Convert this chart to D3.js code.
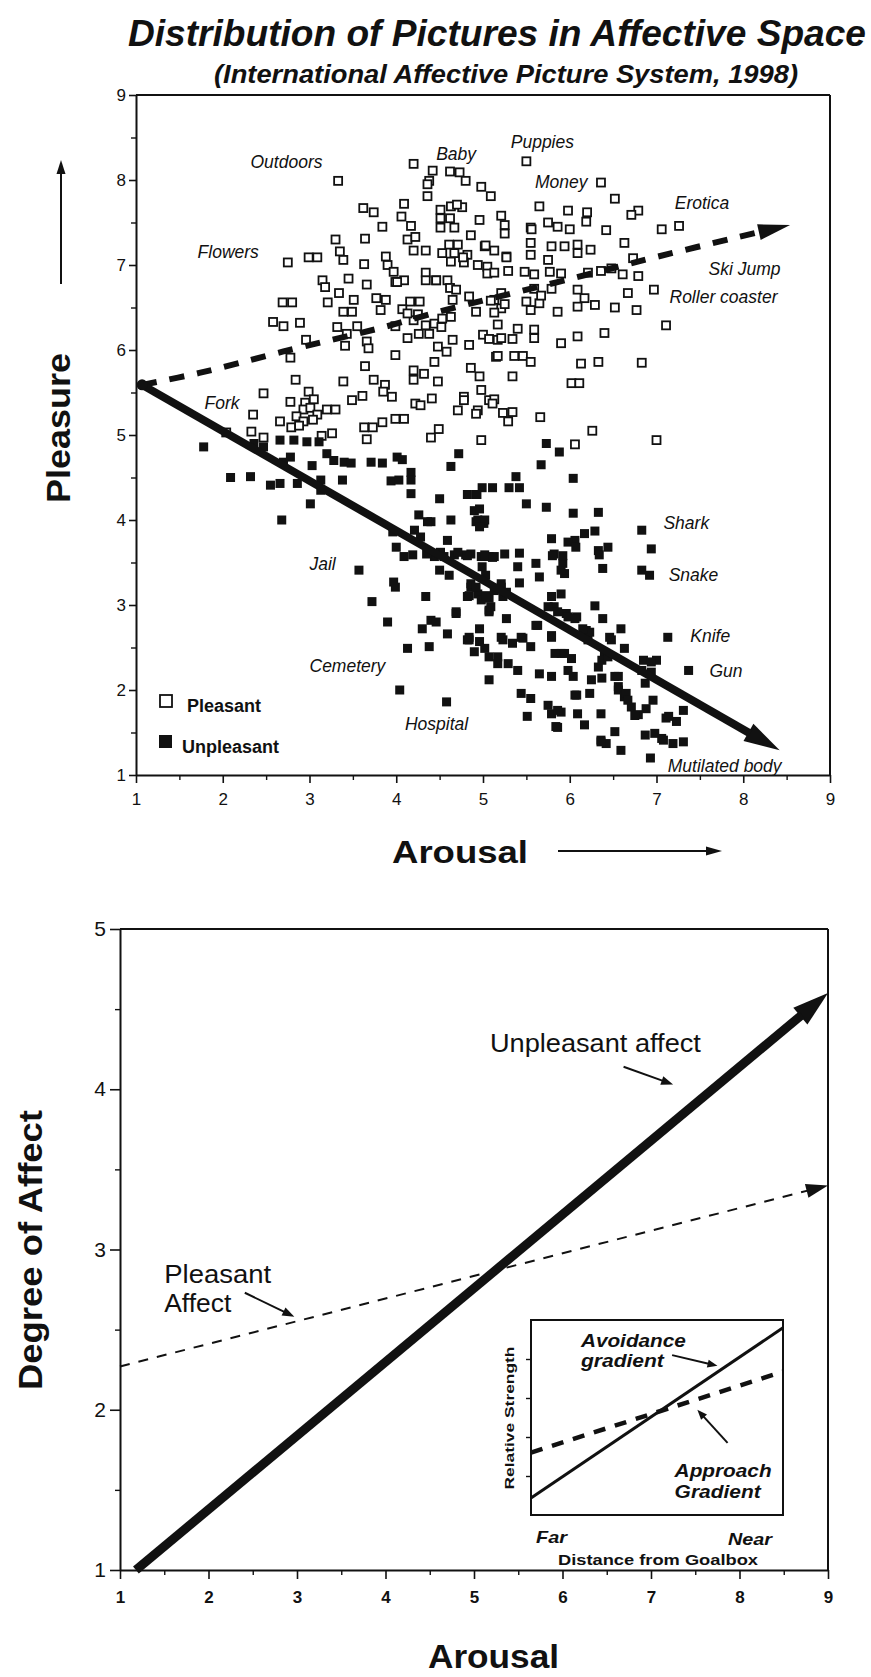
<!DOCTYPE html>
<html lang="en">
<head>
<meta charset="UTF-8">
<title>Distribution of Pictures in Affective Space</title>
<script src="https://d3js.org/d3.v7.min.js"></script>
<style>
  body { margin: 0; background: #fff; }
  svg { display: block; }
</style>
</head>
<body>
<script>
var width = 871, height = 1677;
var ink = "#111";
var font = "'Liberation Sans', Arial, Helvetica, sans-serif";

// ---- top chart data (arousal, pleasure) ----
var pleasant = [
  [4.20,8.19],[4.42,8.11],[4.62,8.10],[4.73,8.09],[4.80,7.99],[4.38,7.99],[4.36,7.81],[3.33,7.99],[4.98,7.92],[5.09,7.81],
  [4.09,7.72],[4.63,7.69],[4.76,7.68],[4.51,7.65],[3.62,7.67],[3.74,7.62],[4.06,7.57],[4.17,7.46],[3.84,7.45],[4.51,7.55],
  [4.62,7.55],[4.67,7.44],[4.96,7.53],[4.86,7.35],[3.30,7.30],[3.64,7.31],[3.35,7.16],[3.39,7.06],[4.13,7.30],[4.22,7.33],
  [4.20,7.17],[4.34,7.17],[4.61,7.24],[4.71,7.24],[4.53,7.14],[4.67,7.14],[4.82,7.12],[5.02,7.22],[5.13,7.17],[4.63,7.04],
  [4.78,7.03],[4.94,7.00],[5.05,6.98],[5.05,6.90],[5.13,6.91],[2.75,7.03],[2.99,7.09],[3.09,7.09],[3.63,7.01],[3.88,7.10],
  [3.90,7.00],[3.97,6.92],[3.99,6.80],[4.09,6.82],[4.34,6.91],[4.34,6.82],[4.46,6.82],[4.59,6.82],[4.62,6.73],[4.69,6.71],
  [3.15,6.82],[3.18,6.74],[3.45,6.84],[3.66,6.77],[3.34,6.67],[3.21,6.56],[3.51,6.59],[3.77,6.61],[3.88,6.59],[3.82,6.47],
  [4.16,6.57],[4.27,6.57],[4.07,6.48],[4.65,6.59],[4.84,6.63],[4.92,6.45],[5.13,6.59],[2.69,6.56],[2.80,6.56],[2.58,6.33],
  [2.70,6.28],[2.89,6.32],[3.39,6.45],[3.49,6.45],[3.55,6.28],[3.32,6.27],[3.43,6.19],[3.41,6.05],[3.66,6.10],[3.68,6.02],
  [3.99,6.28],[4.20,6.35],[4.34,6.29],[4.44,6.31],[4.53,6.37],[4.63,6.39],[4.26,6.19],[4.38,6.19],[4.52,6.27],[4.13,6.14],
  [4.65,6.12],[4.84,6.06],[4.48,6.04],[4.58,5.98],[4.44,5.86],[5.00,6.18],[5.07,6.13],[5.17,6.12],[5.17,6.30],[2.78,5.91],
  [2.96,6.12],[3.99,5.94],[3.64,5.81],[4.20,5.76],[4.32,5.72],[4.20,5.65],[4.48,5.63],[4.86,5.79],[4.96,5.69],[5.15,5.92],
  [2.84,5.65],[2.99,5.51],[3.39,5.63],[3.74,5.65],[3.87,5.59],[3.85,5.51],[3.95,5.45],[2.47,5.49],[2.35,5.24],[2.66,5.16],
  [2.78,5.39],[2.95,5.38],[3.05,5.42],[2.93,5.30],[3.01,5.32],[3.09,5.24],[3.20,5.30],[3.30,5.30],[2.85,5.22],[2.93,5.16],
  [2.79,5.09],[2.88,5.11],[3.04,5.18],[3.49,5.41],[3.61,5.46],[3.63,5.09],[3.73,5.09],[3.84,5.15],[3.99,5.19],[4.09,5.19],
  [3.66,4.95],[4.22,5.37],[4.28,5.35],[4.41,5.43],[4.71,5.29],[4.78,5.45],[4.94,5.29],[4.98,5.53],[5.07,5.41],[5.13,5.42],
  [4.49,5.07],[4.40,4.97],[2.04,5.03],[2.33,5.04],[2.47,4.97],[3.26,5.02],[3.14,4.99],[4.98,4.94],
  [5.50,8.22],[6.36,7.97],[6.52,7.78],[6.79,7.64],[6.71,7.59],[7.06,7.42],[7.26,7.46],[6.63,7.26],[6.73,7.08],[4.70,7.71],
  [5.21,7.58],[5.25,7.47],[5.25,7.37],[5.65,7.69],[5.98,7.64],[6.20,7.62],[6.19,7.51],[5.55,7.44],[5.75,7.50],[5.86,7.45],
  [6.00,7.42],[6.42,7.41],[5.55,7.26],[5.55,7.12],[5.79,7.22],[5.94,7.22],[6.09,7.24],[6.09,7.14],[6.24,7.18],[5.27,7.10],
  [5.29,6.93],[5.48,6.92],[5.59,6.89],[5.77,6.92],[5.90,6.90],[5.75,7.06],[6.21,6.91],[6.36,6.93],[6.48,6.96],[6.61,6.89],
  [6.79,6.87],[6.97,6.71],[6.67,6.67],[6.09,6.71],[6.17,6.61],[6.29,6.53],[6.09,6.51],[6.52,6.50],[6.77,6.47],[7.11,6.29],
  [5.21,6.67],[5.21,6.49],[5.09,6.58],[5.50,6.57],[5.65,6.55],[5.55,6.47],[5.86,6.45],[5.40,6.25],[5.59,6.24],[5.21,6.14],
  [5.34,6.13],[5.59,6.14],[5.90,6.08],[6.09,6.16],[6.40,6.20],[5.17,5.93],[5.36,5.93],[5.46,5.93],[5.55,5.86],[6.13,5.84],
  [6.33,5.86],[6.83,5.85],[5.34,5.69],[4.78,5.41],[6.02,5.61],[6.11,5.61],[4.92,5.25],[5.11,5.37],[5.23,5.26],[5.34,5.27],
  [5.29,5.16],[5.66,5.21],[6.26,5.05],[6.06,4.89],[7.00,4.94],
  [4.36,7.95],[4.51,7.44],[5.56,7.42],[4.77,7.09],[5.59,6.72],[5.67,6.64],[5.79,6.72],[4.13,6.43],[4.25,6.42],[5.13,6.44],
  [5.25,6.54],[4.46,6.82],[4.01,6.80],[5.03,7.23],[5.27,7.09]
];

var unpleasant = [
  [1.78,4.86],[2.09,4.50],[2.32,4.51],[2.68,4.00],[2.55,4.41],[2.66,4.43],[2.86,4.43],[3.01,4.19],[3.03,4.64],[3.13,4.47],
  [3.13,4.35],[2.70,4.68],[2.78,4.74],[2.66,4.94],[2.82,4.94],[2.97,4.92],[3.11,4.92],[2.36,4.90],[2.47,4.86],[3.20,4.78],
  [3.28,4.70],[3.38,4.47],[3.40,4.68],[3.48,4.67],[3.71,4.68],[3.84,4.67],[4.01,4.74],[4.07,4.71],[3.94,4.46],[4.03,4.47],
  [4.17,4.56],[4.17,4.47],[4.17,4.31],[4.50,4.25],[4.63,4.00],[4.59,3.76],[4.72,4.78],[4.63,4.63],[4.82,4.30],[4.99,4.38],
  [4.90,4.11],[4.94,4.00],[5.01,3.96],[4.26,4.06],[4.40,3.98],[3.96,3.86],[4.00,3.68],[4.21,3.88],[4.28,3.80],[4.09,3.57],
  [4.19,3.59],[4.44,3.57],[4.55,3.57],[4.67,3.59],[4.80,3.59],[4.98,3.57],[5.07,3.57],[4.50,3.41],[4.61,3.35],[4.86,3.21],
  [4.94,3.13],[5.07,3.08],[5.07,2.92],[3.57,3.41],[3.97,3.27],[3.99,3.21],[3.72,3.04],[4.34,3.10],[3.90,2.80],[4.30,2.72],
  [4.40,2.82],[4.46,2.80],[4.69,2.90],[4.59,2.66],[4.13,2.49],[4.38,2.51],[4.84,2.59],[4.96,2.57],[4.90,2.45],[4.96,2.72],
  [5.07,2.39],[5.17,2.31],[5.07,2.12],[4.04,2.00],[4.58,1.86],
  [5.73,4.90],[5.88,4.80],[5.67,4.65],[6.04,4.49],[5.38,4.51],[5.30,4.38],[5.42,4.38],[5.11,4.38],[4.92,4.30],[5.50,4.19],
  [5.73,4.15],[6.04,4.08],[6.33,4.09],[4.92,3.98],[5.02,4.00],[6.06,3.76],[6.17,3.84],[6.29,3.87],[5.79,3.78],[6.83,3.88],
  [6.94,3.66],[6.83,3.41],[6.92,3.35],[6.33,3.64],[6.44,3.68],[6.34,3.59],[6.38,3.43],[5.82,3.60],[5.92,3.49],[5.94,3.37],
  [5.42,3.61],[5.40,3.45],[5.42,3.26],[5.61,3.49],[5.65,3.33],[4.71,3.62],[4.86,3.60],[5.02,3.59],[5.13,3.57],[5.25,3.60],
  [4.86,3.25],[4.82,3.10],[4.98,3.06],[5.07,2.94],[5.13,3.17],[5.21,3.21],[5.23,3.10],[4.69,2.92],[5.79,3.10],[5.90,3.13],
  [5.82,2.98],[5.96,2.90],[6.08,2.86],[6.29,2.99],[6.38,2.84],[5.27,2.84],[5.63,2.76],[6.19,2.70],[6.21,2.59],[6.59,2.72],
  [7.13,2.62],[4.82,2.59],[5.02,2.49],[5.23,2.59],[5.34,2.55],[5.46,2.61],[5.55,2.51],[5.79,2.62],[5.90,2.43],[6.48,2.59],
  [6.40,2.43],[6.63,2.49],[6.85,2.35],[7.00,2.35],[6.83,2.23],[6.94,2.21],[7.37,2.23],[5.17,2.39],[5.29,2.31],[5.40,2.23],
  [5.65,2.19],[5.79,2.16],[5.98,2.23],[6.04,2.16],[6.33,2.27],[6.25,2.12],[6.52,2.16],[6.56,2.00],[6.63,1.92],[5.44,1.96],
  [5.55,1.90],[6.06,1.94],[6.23,1.96],[5.75,1.82],[5.79,1.72],[5.90,1.74],[6.09,1.72],[6.36,1.72],[6.71,1.80],[6.79,1.71],
  [6.88,1.78],[7.11,1.67],[7.23,1.63],[7.31,1.76],[5.51,1.69],[5.86,1.56],[6.17,1.59],[6.52,1.51],[6.36,1.41],[6.42,1.37],
  [6.59,1.29],[6.87,1.47],[6.98,1.49],[7.08,1.41],[7.19,1.37],[7.31,1.39],[6.93,1.20],
  [4.93,4.30],[4.96,4.13],[4.96,3.92],[4.36,3.98],[5.98,3.74],[6.07,3.68],[4.35,3.60],[4.51,3.62],[4.82,3.58],[5.11,3.56],
  [5.80,3.58],[5.92,3.58],[5.90,3.41],[4.99,3.45],[5.03,3.35],[4.92,3.21],[4.84,3.11],[5.03,3.11],[5.09,2.98],[5.21,3.25],
  [5.27,3.15],[5.61,2.76],[5.75,2.98],[5.86,2.92],[5.98,2.86],[6.23,2.68],[5.79,2.64],[6.46,2.62],[4.84,2.62],[5.21,2.62],
  [5.44,2.62],[6.02,2.37],[6.37,2.35],[6.44,2.39],[6.37,2.14],[6.56,2.16],[6.56,2.04],[6.65,1.96],[6.67,1.88],[6.94,2.33],
  [6.87,2.08],[6.96,1.88],[6.75,1.70],[7.14,1.69],[5.86,1.76],[5.84,1.57],[6.08,1.94],[6.36,1.39],[7.06,1.43],[6.15,2.72],
  [6.06,2.84],[5.83,2.43],[5.94,2.43]
];

var pictureLabels = [
  ["Outdoors", 2.32, 8.14], ["Baby", 4.46, 8.23], ["Flowers", 1.71, 7.08], ["Fork", 1.79, 5.31],
  ["Puppies", 5.32, 8.38], ["Money", 5.60, 7.91], ["Erotica", 7.21, 7.66], ["Ski Jump", 7.60, 6.88],
  ["Roller coaster", 7.15, 6.55], ["Jail", 3.00, 3.41], ["Cemetery", 3.00, 2.21], ["Hospital", 4.10, 1.53],
  ["Shark", 7.08, 3.90], ["Snake", 7.14, 3.28], ["Knife", 7.39, 2.57], ["Gun", 7.61, 2.15],
  ["Mutilated body", 7.13, 1.04]
];

var pleasantTrend = [[1.07,5.59],[1.73,5.73],[2.69,5.98],[3.86,6.27],[4.49,6.45],[6.02,6.84],[6.94,7.08],[8.15,7.38]];
var pleasantTrendTip = [8.54, 7.47];
var unpleasantTrend = [[1.07,5.59],[8.42,1.29]];

var arousalTicks = [1,2,3,4,5,6,7,8,9];
var pleasureTicks = [1,2,3,4,5,6,7,8,9];
var halfTicks9 = [1.5,2.5,3.5,4.5,5.5,6.5,7.5,8.5];

// ---- bottom chart data (arousal, degree of affect) ----
var affectTicks = [1,2,3,4,5];
var halfTicks5 = [1.5,2.5,3.5,4.5];
var unpleasantAffect = [[1.18,1.0],[9.0,4.6]];
var pleasantAffect = [[1.0,2.27],[9.0,3.4]];
var unpleasantNote = [[6.69,4.14],[7.25,4.03]];
var pleasantNote = [[2.41,2.73],[2.97,2.58]];

// ---- inset (distance from goalbox, relative strength) ----
var avoidance = [[0,0.087],[1,0.96]];
var approach = [[0,0.32],[1,0.735]];
var insetTicks = [0.2,0.4,0.6,0.8];
var avoidNote = [[0.56,0.82],[0.74,0.765]];
var approachNote = [[0.78,0.37],[0.66,0.54]];

var svg = d3.select("body").append("svg")
    .attr("width", width)
    .attr("height", height)
    .style("background", "#fff");

function arrowHead(g, p0, p1, len, half) {
  var dx = p1[0] - p0[0], dy = p1[1] - p0[1];
  var d = Math.sqrt(dx * dx + dy * dy);
  var ux = dx / d, uy = dy / d;
  var bx = p1[0] - ux * len, by = p1[1] - uy * len;
  var pts = [[p1[0], p1[1]], [bx - uy * half, by + ux * half], [bx + uy * half, by - ux * half]];
  g.append("polygon")
    .attr("points", pts.map(function(p){ return p.join(","); }).join(" "))
    .attr("fill", ink);
  return [p1[0] - ux * (len - 2), p1[1] - uy * (len - 2)];
}

function arrowLine(g, p0, p1, len, half, sw, dash) {
  var base = arrowHead(g, p0, p1, len, half);
  g.append("line")
    .attr("x1", p0[0]).attr("y1", p0[1])
    .attr("x2", base[0]).attr("y2", base[1])
    .attr("stroke", ink)
    .attr("stroke-width", sw)
    .attr("stroke-dasharray", dash || null);
}

function styleAxis(g, size, weight) {
  g.attr("font-family", font).attr("font-size", size);
  g.select(".domain").attr("stroke", ink).attr("stroke-width", 2);
  g.selectAll(".tick line").attr("stroke", ink).attr("stroke-width", 1.6);
  g.selectAll(".tick text").attr("fill", ink).attr("font-weight", weight);
}

function addText(g, str, x, y, opts) {
  var t = g.append("text")
    .attr("x", x).attr("y", y)
    .attr("font-family", font)
    .attr("font-size", opts.size)
    .attr("font-weight", opts.weight || "normal")
    .attr("font-style", opts.style || "normal")
    .attr("text-anchor", opts.anchor || "start")
    .attr("fill", ink)
    .text(str);
  if (opts.len) t.attr("textLength", opts.len).attr("lengthAdjust", "spacingAndGlyphs");
  if (opts.rotate) t.attr("transform", "rotate(" + opts.rotate + "," + x + "," + y + ")");
  return t;
}

// ================= TOP CHART =================
var topG = svg.append("g");
var x1 = d3.scaleLinear().domain([1, 9]).range([136, 830]);
var y1 = d3.scaleLinear().domain([1, 9]).range([775, 95]);

addText(topG, "Distribution of Pictures in Affective Space", 128, 46, {size: 36, weight: "bold", style: "italic", len: 738});
addText(topG, "(International Affective Picture System, 1998)", 214, 83, {size: 25, weight: "bold", style: "italic", len: 584});

topG.append("line").attr("x1", x1(1)).attr("x2", x1(9)).attr("y1", y1(9)).attr("y2", y1(9))
  .attr("stroke", ink).attr("stroke-width", 2);
topG.append("line").attr("x1", x1(9)).attr("x2", x1(9)).attr("y1", y1(9)).attr("y2", y1(1))
  .attr("stroke", ink).attr("stroke-width", 2);

var gx1 = topG.append("g").attr("transform", "translate(0," + y1(1) + ")")
  .call(d3.axisBottom(x1).tickValues(arousalTicks).tickFormat(d3.format("d")).tickSize(8).tickSizeOuter(0).tickPadding(10));
styleAxis(gx1, 17, "normal");
var gx1m = topG.append("g").attr("transform", "translate(0," + y1(1) + ")")
  .call(d3.axisBottom(x1).tickValues(halfTicks9).tickSize(5).tickFormat(""));
gx1m.select(".domain").remove();
gx1m.selectAll(".tick line").attr("stroke", ink).attr("stroke-width", 1.4);

var gy1 = topG.append("g").attr("transform", "translate(" + x1(1) + ",0)")
  .call(d3.axisLeft(y1).tickValues(pleasureTicks).tickFormat(d3.format("d")).tickSize(7).tickSizeOuter(0).tickPadding(3));
styleAxis(gy1, 17, "normal");
var gy1m = topG.append("g").attr("transform", "translate(" + x1(1) + ",0)")
  .call(d3.axisLeft(y1).tickValues(halfTicks9).tickSize(5).tickFormat(""));
gy1m.select(".domain").remove();
gy1m.selectAll(".tick line").attr("stroke", ink).attr("stroke-width", 1.4);

topG.append("g").selectAll("rect")
  .data(pleasant)
  .enter()
  .append("rect")
  .attr("x", function(d){ return x1(d[0]) - 4; })
  .attr("y", function(d){ return y1(d[1]) - 4; })
  .attr("width", 8)
  .attr("height", 8)
  .attr("fill", "#fff")
  .attr("stroke", ink)
  .attr("stroke-width", 1.8);

topG.append("g").selectAll("rect")
  .data(unpleasant)
  .enter()
  .append("rect")
  .attr("x", function(d){ return x1(d[0]) - 4.5; })
  .attr("y", function(d){ return y1(d[1]) - 4.5; })
  .attr("width", 9)
  .attr("height", 9)
  .attr("fill", ink);

// trend lines
var trendLine = d3.line()
  .x(function(d){ return x1(d[0]); })
  .y(function(d){ return y1(d[1]); })
  .curve(d3.curveCatmullRom);
var lastP = pleasantTrend[pleasantTrend.length - 1];
topG.append("path")
  .attr("d", trendLine(pleasantTrend))
  .attr("fill", "none")
  .attr("stroke", ink)
  .attr("stroke-width", 6)
  .attr("stroke-dasharray", "15,13");
arrowHead(topG, [x1(lastP[0]), y1(lastP[1])], [x1(pleasantTrendTip[0]), y1(pleasantTrendTip[1])], 32, 8);

arrowLine(topG, [x1(unpleasantTrend[0][0]), y1(unpleasantTrend[0][1])],
  [x1(unpleasantTrend[1][0]), y1(unpleasantTrend[1][1])], 36, 10, 8);
topG.append("circle")
  .attr("cx", x1(unpleasantTrend[0][0]))
  .attr("cy", y1(unpleasantTrend[0][1]))
  .attr("r", 5.5)
  .attr("fill", ink);

topG.append("g").selectAll("text")
  .data(pictureLabels)
  .enter()
  .append("text")
  .attr("x", function(d){ return x1(d[1]); })
  .attr("y", function(d){ return y1(d[2]); })
  .attr("font-family", font)
  .attr("font-size", 17.5)
  .attr("font-style", "italic")
  .attr("fill", ink)
  .text(function(d){ return d[0]; });

// legend
topG.append("rect").attr("x", 160).attr("y", 695).attr("width", 12).attr("height", 12)
  .attr("fill", "#fff").attr("stroke", ink).attr("stroke-width", 1.8);
addText(topG, "Pleasant", 187, 712, {size: 18, weight: "bold"});
topG.append("rect").attr("x", 159).attr("y", 735).attr("width", 13).attr("height", 13).attr("fill", ink);
addText(topG, "Unpleasant", 182, 753, {size: 18, weight: "bold"});

// axis titles
addText(topG, "Pleasure", 70, 428, {size: 33, weight: "bold", anchor: "middle", rotate: -90, len: 150});
arrowLine(topG, [61, 284], [61, 160], 14, 4.5, 2);
addText(topG, "Arousal", 392, 863, {size: 32, weight: "bold", len: 136});
arrowLine(topG, [558, 851], [722, 851], 16, 4.5, 2);

// ================= BOTTOM CHART =================
var botG = svg.append("g");
var x2 = d3.scaleLinear().domain([1, 9]).range([120, 828]);
var y2 = d3.scaleLinear().domain([1, 5]).range([1570, 929]);

botG.append("line").attr("x1", x2(1)).attr("x2", x2(9)).attr("y1", y2(5)).attr("y2", y2(5))
  .attr("stroke", ink).attr("stroke-width", 2);
botG.append("line").attr("x1", x2(9)).attr("x2", x2(9)).attr("y1", y2(5)).attr("y2", y2(1))
  .attr("stroke", ink).attr("stroke-width", 2);

var gx2 = botG.append("g").attr("transform", "translate(0," + y2(1) + ")")
  .call(d3.axisBottom(x2).tickValues(arousalTicks).tickFormat(d3.format("d")).tickSize(9).tickSizeOuter(0).tickPadding(12));
styleAxis(gx2, 17, "bold");
var gx2m = botG.append("g").attr("transform", "translate(0," + y2(1) + ")")
  .call(d3.axisBottom(x2).tickValues(halfTicks9).tickSize(5).tickFormat(""));
gx2m.select(".domain").remove();
gx2m.selectAll(".tick line").attr("stroke", ink).attr("stroke-width", 1.4);

var gy2 = botG.append("g").attr("transform", "translate(" + x2(1) + ",0)")
  .call(d3.axisLeft(y2).tickValues(affectTicks).tickFormat(d3.format("d")).tickSize(10).tickSizeOuter(0).tickPadding(4));
styleAxis(gy2, 21, "normal");
var gy2m = botG.append("g").attr("transform", "translate(" + x2(1) + ",0)")
  .call(d3.axisLeft(y2).tickValues(halfTicks5).tickSize(5).tickFormat(""));
gy2m.select(".domain").remove();
gy2m.selectAll(".tick line").attr("stroke", ink).attr("stroke-width", 1.4);

arrowLine(botG, [x2(pleasantAffect[0][0]), y2(pleasantAffect[0][1])],
  [x2(pleasantAffect[1][0]), y2(pleasantAffect[1][1])], 22, 7, 2, "10,9");
arrowLine(botG, [x2(unpleasantAffect[0][0]), y2(unpleasantAffect[0][1])],
  [x2(unpleasantAffect[1][0]), y2(unpleasantAffect[1][1])], 36, 11, 9);

addText(botG, "Unpleasant affect", x2(5.18), y2(4.23), {size: 25, len: 211});
arrowLine(botG, [x2(unpleasantNote[0][0]), y2(unpleasantNote[0][1])],
  [x2(unpleasantNote[1][0]), y2(unpleasantNote[1][1])], 12, 4.5, 2);
addText(botG, "Pleasant", x2(1.50), y2(2.79), {size: 25, len: 107});
addText(botG, "Affect", x2(1.50), y2(2.61), {size: 25, len: 67});
arrowLine(botG, [x2(pleasantNote[0][0]), y2(pleasantNote[0][1])],
  [x2(pleasantNote[1][0]), y2(pleasantNote[1][1])], 12, 4.5, 2);

addText(botG, "Degree of Affect", 42, 1250, {size: 34, weight: "bold", anchor: "middle", rotate: -90, len: 280});
addText(botG, "Arousal", 428, 1668, {size: 34, weight: "bold", len: 131});

// ================= INSET =================
var insG = svg.append("g");
var xi = d3.scaleLinear().domain([0, 1]).range([531, 783]);
var yi = d3.scaleLinear().domain([0, 1]).range([1515, 1320]);

insG.append("rect")
  .attr("x", xi(0)).attr("y", yi(1))
  .attr("width", xi(1) - xi(0)).attr("height", yi(0) - yi(1))
  .attr("fill", "#fff").attr("stroke", ink).attr("stroke-width", 2);
var gyi = insG.append("g").attr("transform", "translate(" + xi(0) + ",0)")
  .call(d3.axisLeft(yi).tickValues(insetTicks).tickSize(5).tickFormat(""));
gyi.select(".domain").remove();
gyi.selectAll(".tick line").attr("stroke", ink).attr("stroke-width", 1.4);

var insLine = d3.line()
  .x(function(d){ return xi(d[0]); })
  .y(function(d){ return yi(d[1]); });
insG.append("path").attr("d", insLine(approach)).attr("fill", "none")
  .attr("stroke", ink).attr("stroke-width", 4.5).attr("stroke-dasharray", "12,10");
insG.append("path").attr("d", insLine(avoidance)).attr("fill", "none")
  .attr("stroke", ink).attr("stroke-width", 3);

addText(insG, "Avoidance", xi(0.198), yi(0.86), {size: 18, weight: "bold", style: "italic", len: 105});
addText(insG, "gradient", xi(0.198), yi(0.758), {size: 18, weight: "bold", style: "italic", len: 83});
arrowLine(insG, [xi(avoidNote[0][0]), yi(avoidNote[0][1])], [xi(avoidNote[1][0]), yi(avoidNote[1][1])], 10, 4, 2);
addText(insG, "Approach", xi(0.57), yi(0.195), {size: 18, weight: "bold", style: "italic", len: 97});
addText(insG, "Gradient", xi(0.57), yi(0.087), {size: 18, weight: "bold", style: "italic", len: 86});
arrowLine(insG, [xi(approachNote[0][0]), yi(approachNote[0][1])], [xi(approachNote[1][0]), yi(approachNote[1][1])], 10, 4, 2);

addText(insG, "Far", xi(0.02), 1543, {size: 17, weight: "bold", style: "italic", len: 31});
addText(insG, "Near", xi(0.956), 1545, {size: 17, weight: "bold", style: "italic", anchor: "end", len: 44});
addText(insG, "Distance from Goalbox", 658, 1565, {size: 15, weight: "bold", anchor: "middle", len: 200});
addText(insG, "Relative Strength", 514, 1418, {size: 13, weight: "bold", anchor: "middle", rotate: -90, len: 143});
</script>
</body>
</html>
